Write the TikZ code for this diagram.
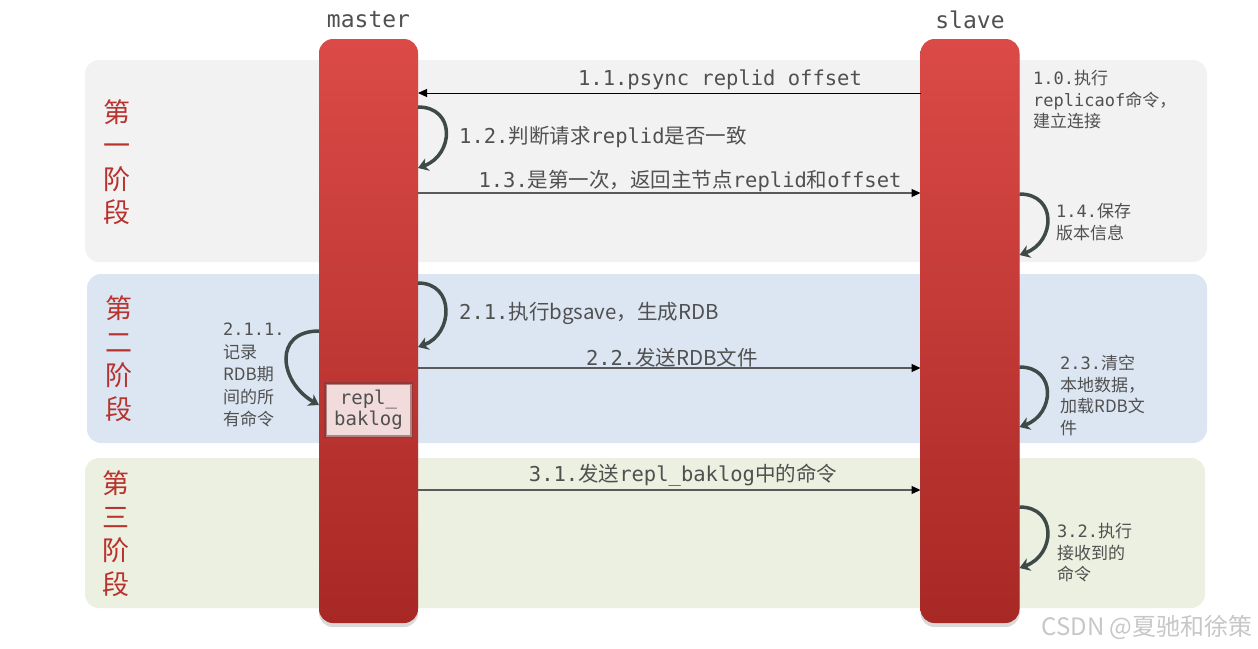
\documentclass[tikz,border=0pt]{standalone}
\usepackage{fontspec}
\setmonofont{DejaVu Sans Mono}
\newfontfamily\cjk{Noto Sans CJK SC}
\usetikzlibrary{positioning,arrows.meta,shadows}

\definecolor{phaseA}{HTML}{F2F2F2}
\definecolor{phaseB}{HTML}{DCE6F2}
\definecolor{phaseC}{HTML}{EBF0E0}
\definecolor{barTop}{HTML}{DB4A46}
\definecolor{barBot}{HTML}{A82825}
\definecolor{stageRed}{HTML}{B8332E}
\definecolor{txtGray}{HTML}{505050}
\definecolor{lineGray}{HTML}{5A5A5A}
\definecolor{loopGray}{HTML}{3D4A48}
\definecolor{bakPink}{HTML}{F2DCDB}
\definecolor{bakEdge}{HTML}{7A3A3A}

\newcommand{\zh}[1]{{\cjk #1}}

\begin{document}
\begin{tikzpicture}[x=1pt, y=-1pt,
      phase/.style    = {rectangle, rounded corners=14pt, inner sep=0pt,
                         outer sep=0pt},
      bar/.style      = {rectangle, rounded corners=14pt, minimum width=99pt,
                         minimum height=584pt, inner sep=0pt, outer sep=0pt,
                         top color=barTop, bottom color=barBot,
                         drop shadow={shadow xshift=0pt, shadow yshift=-4pt,
                                      opacity=0.3}},
      stage/.style    = {align=center, text=stageRed, inner sep=0pt,
                         font=\fontsize{27}{33.5}\selectfont\cjk},
      actor/.style    = {text=txtGray, inner sep=0pt,
                         font=\fontsize{23}{26}\selectfont\ttfamily},
      msg/.style      = {draw=lineGray, line width=1.3pt,
                         -{Triangle[length=9pt, width=8pt, color=black]}},
      msglabel/.style = {text=txtGray, inner sep=0pt,
                         font=\fontsize{20.5}{24}\selectfont\ttfamily},
      note/.style     = {text=txtGray, align=left, inner sep=0pt, anchor=west,
                         font=\fontsize{17}{21.5}\selectfont\ttfamily},
      selfloop/.style = {draw=loopGray, line width=3.5pt,
                         -{Stealth[length=10pt, width=13pt, inset=3pt]}},
      baklog/.style   = {rectangle, fill=bakPink, draw=bakEdge,
                         draw opacity=0.55, line width=3pt,
                         minimum width=86pt, minimum height=53pt,
                         align=center, text=txtGray, inner sep=0pt,
                         font=\fontsize{19}{20.5}\selectfont\ttfamily}
    ]
    \useasboundingbox (0,0) rectangle (1258,648);

    % phases
    \node[phase, fill=phaseA, minimum width=1122pt, minimum height=202pt]
          (p1) at (646,161) {};
    \node[phase, fill=phaseB, minimum width=1120pt, minimum height=169pt]
          (p2) at (647,358.5) {};
    \node[phase, fill=phaseC, minimum width=1120pt, minimum height=150pt]
          (p3) at (645,533) {};

    \node[stage] (s1) at (117,162)   {第\\一\\阶\\段};
    \node[stage] (s2) at (119,358.5) {第\\二\\阶\\段};
    \node[stage] (s3) at (116,533.5) {第\\三\\阶\\段};

    % lifelines
    \node[bar] (master) at (368.5,331) {};
    \node[bar] (slave)  at (970,331)   {};
    \node[actor, above=11pt of master] (mname) {master};
    \node[actor, above=10pt of slave]  (sname) {slave};

    % phase 1
    \draw[msg, draw=black, line width=1pt] (slave.west |- 0,93) -- (master.east |- 0,93);
    \node[msglabel] (m11) at (720,80) {1.1.psync replid offset};
    \node[note] (n10) at (1033,100)
          {1.0.\zh{执行}\\replicaof\zh{命令，}\\\zh{建立连接}};
    \draw[selfloop] (master.east |- 0,107) to[out=0, in=20, looseness=1.6]
                    (master.east |- 0,168);
    \node[msglabel, anchor=west] (m12) at (459,137)
          {1.2.\zh{判断请求}replid\zh{是否一致}};
    \draw[msg] (master.east |- 0,193) -- (slave.west |- 0,193);
    \node[msglabel] (m13) at (690,181)
          {1.3.\zh{是第一次，返回主节点}replid\zh{和}offset};
    \draw[selfloop] (slave.east |- 0,194) to[out=0, in=20, looseness=1.6]
                    (slave.east |- 0,255);
    \node[note] (n14) at (1056,222) {1.4.\zh{保存}\\\zh{版本信息}};

    % phase 2
    \draw[selfloop] (master.east |- 0,283) to[out=0, in=20, looseness=1.5]
                    (master.east |- 0,347);
    \node[msglabel, anchor=west] (m21) at (459,313)
          {2.1.\zh{执行bgsave，生成RDB}};
    \draw[msg] (master.east |- 0,368) -- (slave.west |- 0,368);
    \node[msglabel] (m22) at (672,358) {2.2.\zh{发送RDB文件}};
    \node[baklog] (bak) at (368.5,410) {repl\_\\baklog};
    \draw[selfloop] (master.west |- 0,331) to[out=180, in=150, looseness=1.6]
                    (master.west |- 0,405);
    \node[note, font=\fontsize{17}{22.5}\selectfont\ttfamily] (n211) at (223,375)
          {2.1.1.\\\zh{记录}\\\zh{RDB期}\\\zh{间的所}\\\zh{有命令}};
    \draw[selfloop] (slave.east |- 0,367) to[out=0, in=20, looseness=1.6]
                    (slave.east |- 0,427);
    \node[note] (n23) at (1060,395.5)
          {2.3.\zh{清空}\\\zh{本地数据，}\\\zh{加载RDB文}\\\zh{件}};

    % phase 3
    \draw[msg] (master.east |- 0,490) -- (slave.west |- 0,490);
    \node[msglabel] (m31) at (683,475)
          {3.1.\zh{发送}repl\_baklog\zh{中的命令}};
    \draw[selfloop] (slave.east |- 0,507) to[out=0, in=20, looseness=1.6]
                    (slave.east |- 0,568);
    \node[note] (n32) at (1057,553) {3.2.\zh{执行}\\\zh{接收到的}\\\zh{命令}};

    \node[text=black!22, inner sep=0pt,
          font=\fontsize{24}{28}\selectfont\cjk] (mark) at (1147,627)
          {CSDN @夏驰和徐策};
  \end{tikzpicture}
\end{document}
